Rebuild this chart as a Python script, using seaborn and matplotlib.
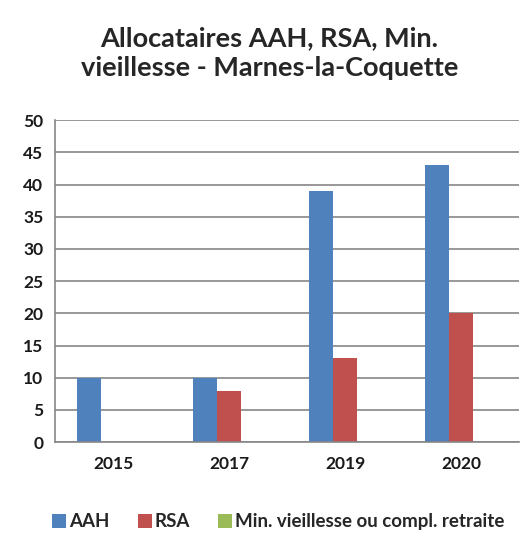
import numpy as np
import pandas as pd
import seaborn as sns
import matplotlib.pyplot as plt

years = ["2015", "2017", "2019", "2020"]
series_names = ["AAH", "RSA", "Min. vieillesse ou compl. retraite"]
aah = [10, 10, 39, 43]
rsa = [0, 8, 13, 20]
min_vieil = [0, 0, 0, 0]
colors = ["#4F81BD", "#C0504D", "#9BBB59"]

df = pd.DataFrame({"year": years * 3,
                   "serie": np.repeat(series_names, len(years)),
                   "value": aah + rsa + min_vieil})

sns.set_style("white")
plt.rcParams['font.family'] = ['Lato', 'DejaVu Sans']

fig = plt.figure(figsize=(5.2, 5.34), dpi=100)
ax = fig.add_axes([0.106, 0.172, 0.892, 0.603])

sns.barplot(data=df, x="year", y="value", hue="serie", palette=colors,
            width=0.62, gap=0, ax=ax, legend=True, saturation=1, linewidth=0)

ax.set_ylim(0, 50)
ax.set_xlim(-0.5, 3.5)
ax.set_yticks(np.arange(0, 51, 5))
ax.yaxis.grid(True, color="#868686", linewidth=1.2)
ax.set_axisbelow(True)
ax.set_xlabel("")
ax.set_ylabel("")

for s in ["top", "right"]:
    ax.spines[s].set_visible(False)
for s in ["left", "bottom"]:
    ax.spines[s].set_color("#868686")
    ax.spines[s].set_linewidth(1.2)

ax.set_xticks(np.arange(-0.5, 3.6, 1), minor=True)
ax.tick_params(axis="x", which="major", length=0, pad=10, labelsize=12.5)
ax.tick_params(axis="x", which="minor", length=5, color="#868686", width=1.2, direction="out")
ax.tick_params(axis="y", length=5, color="#868686", width=1.2, direction="out", labelsize=12.5)
for lab in ax.get_xticklabels() + ax.get_yticklabels():
    lab.set_fontweight("bold")
    lab.set_color("#1a1a1a")

handles, labels = ax.get_legend_handles_labels()
ax.get_legend().remove()
fig.legend(handles, labels, loc="center", bbox_to_anchor=(0.535, 0.023), ncol=3,
           frameon=False, handlelength=0.75, handleheight=0.75, handletextpad=0.15,
           columnspacing=1.5, prop={"size": 13.5, "weight": "bold"})

fig.text(0.518, 0.9, "Allocataires AAH, RSA, Min.\nvieillesse - Marnes-la-Coquette",
         ha="center", va="center", fontsize=19.5, fontweight="bold", linespacing=1.3)

fig.savefig("out.png", dpi=100)
